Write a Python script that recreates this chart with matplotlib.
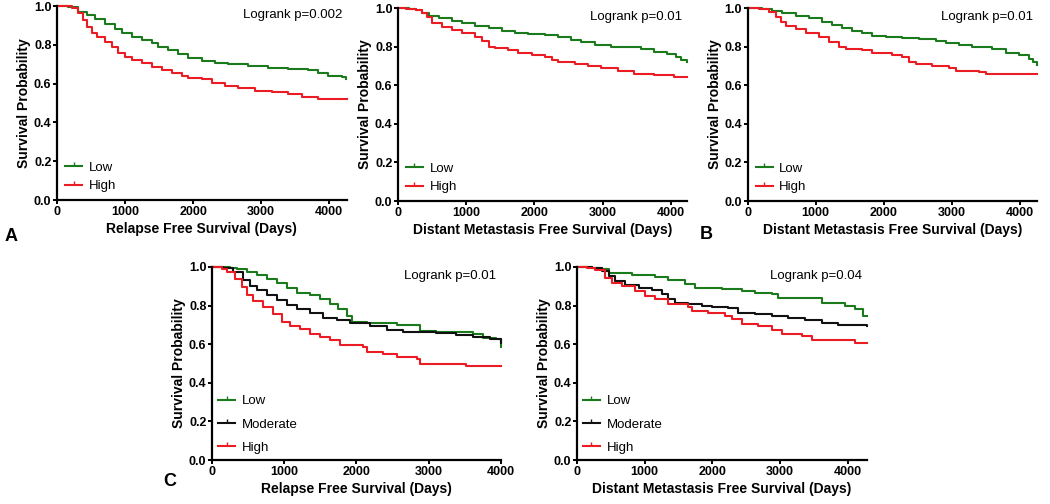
import matplotlib
matplotlib.use("Agg")
import matplotlib.pyplot as plt
from matplotlib.lines import Line2D

plt.rcParams['font.family'] = ['Liberation Sans', 'DejaVu Sans']

GREEN = '#1b7a1b'
RED = '#ec1c24'
BLACK = '#111111'

# ---- panel 1: relapse free survival (Low / High)
p1_low_t = [0, 167, 314, 436, 559, 706, 853, 951, 1098, 1245, 1392, 1490, 1637, 1784, 1931, 2127,
            2323, 2520, 2814, 3108, 3402, 3696, 3843, 3990, 4186, 4250]
p1_low_s = [1.0, 0.993, 0.971, 0.954, 0.935, 0.907, 0.88, 0.863, 0.842, 0.825, 0.808, 0.79, 0.773,
            0.753, 0.73, 0.718, 0.708, 0.701, 0.691, 0.679, 0.674, 0.67, 0.653, 0.639, 0.632, 0.622]
p1_high_t = [0, 216, 314, 387, 436, 510, 583, 706, 804, 902, 1000, 1098, 1245, 1392, 1539, 1686, 1833,
             1931, 2127, 2274, 2471, 2667, 2912, 3157, 3402, 3598, 3843, 4260]
p1_high_s = [1.0, 0.988, 0.962, 0.928, 0.893, 0.859, 0.838, 0.816, 0.79, 0.756, 0.735, 0.722, 0.704,
             0.687, 0.67, 0.656, 0.639, 0.627, 0.622, 0.605, 0.588, 0.576, 0.564, 0.555, 0.546, 0.533,
             0.521, 0.521]

# ---- panel 2: distant metastasis free survival (Low / High)
p2_low_t = [0, 165, 262, 359, 456, 601, 795, 940, 1134, 1328, 1522, 1716, 1910, 2153, 2346, 2540,
            2685, 2880, 3122, 3558, 3752, 3946, 4067, 4140, 4230]
p2_low_s = [1.0, 0.995, 0.99, 0.976, 0.959, 0.946, 0.934, 0.924, 0.907, 0.895, 0.883, 0.872, 0.864,
            0.86, 0.848, 0.834, 0.826, 0.808, 0.8, 0.786, 0.774, 0.76, 0.745, 0.731, 0.72]
p2_high_t = [0, 116, 262, 359, 431, 504, 650, 795, 940, 1134, 1231, 1328, 1425, 1619, 1765, 1959, 2153,
             2250, 2346, 2589, 2783, 2977, 3219, 3461, 3752, 4043, 4230]
p2_high_s = [1.0, 0.995, 0.99, 0.976, 0.952, 0.924, 0.903, 0.886, 0.872, 0.851, 0.831, 0.8, 0.791, 0.782,
             0.769, 0.756, 0.748, 0.731, 0.718, 0.71, 0.7, 0.687, 0.675, 0.661, 0.653, 0.644, 0.641]

# ---- panel 3: distant metastasis free survival (Low / High), second cohort
p3_low_t = [0, 216, 363, 510, 706, 902, 1098, 1245, 1392, 1539, 1686, 1833, 2029, 2275, 2520, 2765,
            2912, 3108, 3304, 3598, 3794, 3990, 4137, 4200, 4260]
p3_low_s = [1.0, 0.995, 0.986, 0.972, 0.959, 0.946, 0.929, 0.912, 0.895, 0.883, 0.872, 0.855, 0.852,
            0.843, 0.838, 0.831, 0.82, 0.808, 0.796, 0.786, 0.769, 0.756, 0.734, 0.72, 0.705]
p3_high_t = [0, 167, 314, 412, 485, 559, 706, 853, 1049, 1196, 1343, 1441, 1686, 1833, 2127, 2275, 2373,
             2471, 2716, 2961, 3059, 3402, 3500, 4260]
p3_high_s = [1.0, 0.995, 0.981, 0.955, 0.929, 0.907, 0.889, 0.869, 0.851, 0.826, 0.8, 0.786, 0.782, 0.769,
             0.756, 0.744, 0.722, 0.71, 0.7, 0.687, 0.675, 0.67, 0.661, 0.661]

# ---- panel 4: relapse free survival (Low / Moderate / High)
p4_low_t = [0, 249, 341, 480, 618, 757, 895, 1034, 1172, 1357, 1495, 1633, 1749, 1864, 1933, 2141, 2556,
            2879, 3110, 3617, 3756, 3940, 4000]
p4_low_s = [1.0, 0.995, 0.988, 0.974, 0.96, 0.94, 0.919, 0.891, 0.867, 0.853, 0.832, 0.81, 0.784, 0.746,
            0.715, 0.71, 0.698, 0.668, 0.663, 0.655, 0.632, 0.625, 0.585]
p4_mod_t = [0, 157, 295, 434, 526, 618, 757, 895, 1034, 1172, 1357, 1541, 1726, 1910, 2187, 2418, 2648,
            3110, 3387, 3617, 3848, 4000]
p4_mod_s = [1.0, 0.995, 0.974, 0.931, 0.902, 0.879, 0.853, 0.827, 0.801, 0.781, 0.763, 0.736, 0.724, 0.71,
            0.694, 0.672, 0.663, 0.66, 0.649, 0.637, 0.625, 0.608]
p4_high_t = [0, 134, 203, 318, 411, 480, 572, 711, 849, 964, 1080, 1218, 1357, 1495, 1633, 1772, 2095,
             2141, 2372, 2556, 2833, 2879, 3525, 4000]
p4_high_s = [1.0, 0.99, 0.974, 0.94, 0.896, 0.853, 0.822, 0.793, 0.758, 0.715, 0.694, 0.677, 0.655, 0.637,
             0.62, 0.594, 0.585, 0.56, 0.551, 0.534, 0.525, 0.499, 0.487, 0.487]

# ---- panel 5: distant metastasis free survival (Low / Moderate / High)
p5_low_t = [0, 221, 369, 467, 811, 1155, 1351, 1597, 1745, 2138, 2432, 2629, 2875, 2973, 3612, 3956,
            4103, 4226, 4280]
p5_low_s = [1.0, 0.995, 0.988, 0.97, 0.958, 0.948, 0.93, 0.913, 0.893, 0.884, 0.875, 0.867, 0.858, 0.837,
            0.815, 0.797, 0.78, 0.745, 0.745]
p5_mod_t = [0, 221, 369, 467, 565, 713, 909, 1106, 1253, 1351, 1450, 1646, 1843, 1990, 2236, 2383, 2629,
            2875, 3121, 3366, 3612, 3858, 4280]
p5_mod_s = [1.0, 0.995, 0.979, 0.953, 0.927, 0.906, 0.893, 0.879, 0.861, 0.832, 0.815, 0.809, 0.797, 0.792,
            0.785, 0.763, 0.754, 0.745, 0.737, 0.723, 0.711, 0.698, 0.692]
p5_high_t = [0, 147, 270, 418, 516, 663, 860, 1007, 1155, 1351, 1646, 1695, 1941, 2187, 2285, 2432, 2678,
             2875, 3022, 3317, 3464, 4103, 4280]
p5_high_s = [1.0, 0.995, 0.983, 0.945, 0.919, 0.901, 0.875, 0.849, 0.832, 0.806, 0.792, 0.771, 0.763,
             0.745, 0.728, 0.702, 0.693, 0.676, 0.653, 0.641, 0.624, 0.607, 0.607]

pvalues = ['Logrank p=0.002', 'Logrank p=0.01', 'Logrank p=0.01', 'Logrank p=0.01', 'Logrank p=0.04']
xlabels = ['Relapse Free Survival (Days)', 'Distant Metastasis Free Survival (Days)',
           'Distant Metastasis Free Survival (Days)', 'Relapse Free Survival (Days)',
           'Distant Metastasis Free Survival (Days)']
xmaxes = [4260, 4230, 4260, 4000, 4280]

panels = [
    [(p1_low_t, p1_low_s, GREEN, 'Low'), (p1_high_t, p1_high_s, RED, 'High')],
    [(p2_low_t, p2_low_s, GREEN, 'Low'), (p2_high_t, p2_high_s, RED, 'High')],
    [(p3_low_t, p3_low_s, GREEN, 'Low'), (p3_high_t, p3_high_s, RED, 'High')],
    [(p4_low_t, p4_low_s, GREEN, 'Low'), (p4_mod_t, p4_mod_s, BLACK, 'Moderate'), (p4_high_t, p4_high_s, RED, 'High')],
    [(p5_low_t, p5_low_s, GREEN, 'Low'), (p5_mod_t, p5_mod_s, BLACK, 'Moderate'), (p5_high_t, p5_high_s, RED, 'High')],
]

# axes boxes in figure fractions [left, bottom, width, height]
boxes = [
    [0.0543, 0.603, 0.276, 0.385],
    [0.379, 0.601, 0.275, 0.383],
    [0.712, 0.601, 0.276, 0.383],
    [0.2019, 0.0873, 0.275, 0.383],
    [0.5495, 0.0873, 0.276, 0.383],
]

fig = plt.figure(figsize=(10.5, 5.04), dpi=100)

for i, series in enumerate(panels):
    ax = fig.add_axes(boxes[i])
    for t, s, col, lab in series:
        ax.plot(t, s, drawstyle='steps-post', color=col, lw=1.5, clip_on=False)
    ax.set_xlim(0, xmaxes[i])
    ax.set_ylim(0, 1.0)
    ax.set_xticks([0, 1000, 2000, 3000, 4000])
    ax.set_yticks([0.0, 0.2, 0.4, 0.6, 0.8, 1.0])
    ax.set_yticklabels(['0.0', '0.2', '0.4', '0.6', '0.8', '1.0'])
    for side in ['top', 'right']:
        ax.spines[side].set_visible(False)
    for side in ['left', 'bottom']:
        ax.spines[side].set_linewidth(1.6)
    ax.tick_params(direction='out', length=3, width=1.4, pad=1, labelsize=9)
    for lbl in ax.get_xticklabels() + ax.get_yticklabels():
        lbl.set_fontweight('bold')
    ax.set_ylabel('Survival Probability', fontsize=10, fontweight='bold', labelpad=2)
    ax.set_xlabel(xlabels[i], fontsize=10, fontweight='bold', labelpad=3)
    ax.text(0.985, 0.985, pvalues[i], transform=ax.transAxes, ha='right', va='top', fontsize=9.5)
    handles = [Line2D([0, 1], [0, 0], color=col, lw=1.5, marker=2, markersize=3, markevery=[1],
                      label=lab) for t, s, col, lab in series]
    three = len(series) == 3
    ax.legend(handles=handles, loc='lower left', frameon=False, fontsize=9.5,
              handlelength=1.3, handletextpad=0.5,
              labelspacing=0.85 if three else 0.45,
              borderaxespad=0.05 if three else 0.2, bbox_to_anchor=(0.0, 0.0))

fig.text(0.004, 0.53, 'A', fontsize=13, fontweight='bold', va='center')
fig.text(0.666, 0.535, 'B', fontsize=13, fontweight='bold', va='center')
fig.text(0.155, 0.045, 'C', fontsize=13, fontweight='bold', va='center')

fig.savefig('out.png', dpi=100)
